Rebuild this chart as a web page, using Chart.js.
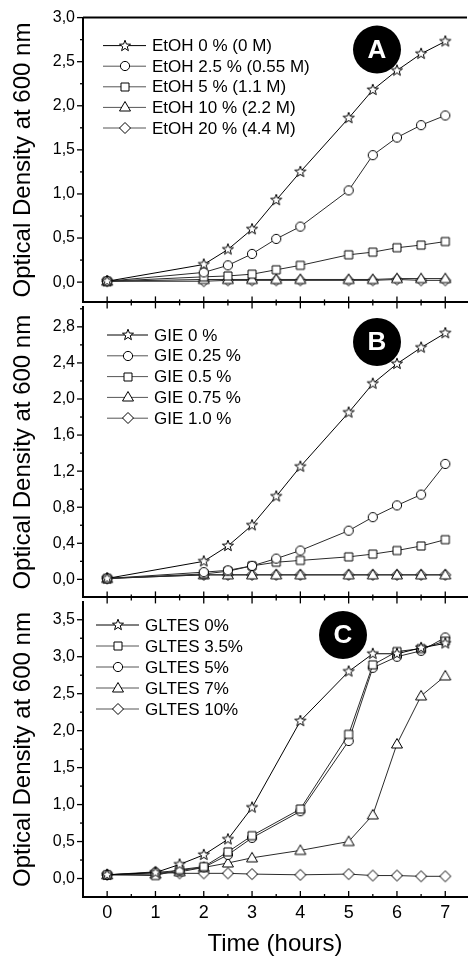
<!DOCTYPE html>
<html>
<head>
<meta charset="utf-8">
<script src="https://cdn.jsdelivr.net/npm/chart.js@4.4.1/dist/chart.umd.min.js"></script>
<style>
  html, body { margin: 0; padding: 0; background: #fff; overflow: hidden; }
  .panel { position: absolute; left: 0; width: 473px; }
</style>
</head>
<body>
<div class="panel" style="top:0;height:320px"><canvas id="chartA"></canvas></div>
<div class="panel" style="top:287px;height:328px"><canvas id="chartB"></canvas></div>
<div class="panel" style="top:582px;height:379px"><canvas id="chartC"></canvas></div>
<script>
// sampling times (hours)
const hoursAB = [0, 2, 2.5, 3, 3.5, 4, 5, 5.5, 6, 6.5, 7];
const hoursC = [0, 1, 1.5, 2, 2.5, 3, 4, 5, 5.5, 6, 6.5, 7];

// panel A - ethanol
const etohLabels = ['EtOH 0 % (0 M)', 'EtOH 2.5 % (0.55 M)', 'EtOH 5 % (1.1 M)', 'EtOH 10 % (2.2 M)', 'EtOH 20 % (4.4 M)'];
const etoh0 = [0.01, 0.20, 0.37, 0.60, 0.93, 1.25, 1.86, 2.18, 2.40, 2.59, 2.73];
const etoh25 = [0.01, 0.11, 0.19, 0.32, 0.49, 0.63, 1.04, 1.44, 1.64, 1.78, 1.89];
const etoh5 = [0.01, 0.06, 0.07, 0.09, 0.14, 0.19, 0.31, 0.34, 0.39, 0.42, 0.46];
const etoh10 = [0.01, 0.03, 0.03, 0.03, 0.03, 0.03, 0.03, 0.03, 0.04, 0.04, 0.04];
const etoh20 = [0.01, 0.01, 0.02, 0.02, 0.02, 0.02, 0.02, 0.02, 0.03, 0.02, 0.02];

// panel B - GIE
const gieLabels = ['GIE 0 %', 'GIE 0.25 %', 'GIE 0.5 %', 'GIE 0.75 %', 'GIE 1.0 %'];
const gie0 = [0.01, 0.20, 0.37, 0.60, 0.92, 1.25, 1.85, 2.17, 2.39, 2.57, 2.73];
const gie025 = [0.01, 0.08, 0.10, 0.15, 0.23, 0.32, 0.54, 0.69, 0.82, 0.94, 1.28];
const gie05 = [0.01, 0.06, 0.09, 0.15, 0.19, 0.21, 0.25, 0.28, 0.32, 0.37, 0.44];
const gie075 = [0.01, 0.05, 0.05, 0.05, 0.05, 0.05, 0.05, 0.05, 0.05, 0.05, 0.05];
const gie1 = [0.01, 0.05, 0.05, 0.05, 0.05, 0.05, 0.05, 0.05, 0.05, 0.05, 0.05];

// panel C - GLTES
const gltesLabels = ['GLTES 0%', 'GLTES 3.5%', 'GLTES 5%', 'GLTES 7%', 'GLTES 10%'];
const gltes0 = [0.05, 0.08, 0.19, 0.32, 0.53, 0.96, 2.13, 2.80, 3.04, 3.04, 3.12, 3.18];
const gltes35 = [0.05, 0.04, 0.12, 0.16, 0.36, 0.58, 0.94, 1.95, 2.89, 3.07, 3.11, 3.21];
const gltes5 = [0.05, 0.08, 0.11, 0.15, 0.32, 0.55, 0.91, 1.86, 2.85, 3.00, 3.08, 3.26];
const gltes7 = [0.05, 0.06, 0.09, 0.15, 0.21, 0.28, 0.38, 0.50, 0.86, 1.82, 2.47, 2.74];
const gltes10 = [0.05, 0.09, 0.07, 0.07, 0.07, 0.06, 0.05, 0.06, 0.04, 0.04, 0.03, 0.03];

const FONT = '"Liberation Sans", Arial, Helvetica, sans-serif';
Chart.defaults.font.family = FONT;
Chart.defaults.color = '#000';

// open (white filled) markers drawn once on small canvases
function marker(shape) {
  const c = document.createElement('canvas');
  c.width = 14; c.height = 14;
  const g = c.getContext('2d');
  g.translate(7, 7);
  g.beginPath();
  if (shape === 'star') {
    for (let i = 0; i < 10; i++) {
      const r = i % 2 ? 2.4 : 5.8;
      const a = -Math.PI / 2 + i * Math.PI / 5;
      g.lineTo(r * Math.cos(a), r * Math.sin(a));
    }
    g.closePath();
  } else if (shape === 'circle') {
    g.arc(0, 0, 4.6, 0, Math.PI * 2);
  } else if (shape === 'square') {
    g.rect(-4, -4, 8, 8);
  } else if (shape === 'triangle') {
    g.moveTo(0, -5.5); g.lineTo(5.5, 4); g.lineTo(-5.5, 4); g.closePath();
  } else {
    g.moveTo(0, -5.5); g.lineTo(5.5, 0); g.lineTo(0, 5.5); g.lineTo(-5.5, 0); g.closePath();
  }
  g.fillStyle = '#fff';
  g.fill();
  g.strokeStyle = '#000';
  g.lineWidth = 1;
  g.stroke();
  return c;
}
const shapes = ['star', 'circle', 'square', 'triangle', 'diamond'].map(marker);
const shapesC = [shapes[0], shapes[2], shapes[1], shapes[3], shapes[4]];

function isStep(v, step) {
  return Math.abs(v / step - Math.round(v / step)) < 1e-6;
}

// ticks from 0 up to the axis max, every `step`
function stepTicks(step, upTo) {
  return s => {
    const out = [];
    for (let k = 0; k * step <= (upTo ?? s.max) + 1e-9; k++) out.push({ value: +(k * step).toFixed(4) });
    s.ticks = out;
  };
}

// frame line, crossing ticks, inner legend and the letter badge
const panelDecor = {
  id: 'panelDecor',
  afterDatasetsDraw(chart, args, o) {
    const { ctx, chartArea: a, scales: { x, y } } = chart;
    const line = (x1, y1, x2, y2) => { ctx.beginPath(); ctx.moveTo(x1, y1); ctx.lineTo(x2, y2); ctx.stroke(); };
    ctx.save();
    ctx.strokeStyle = '#000';
    if (o.topBorder) {
      ctx.lineWidth = 2;
      line(a.left, a.top, a.right, a.top);
    }
    ctx.lineWidth = 1.3;
    x.ticks.forEach(t => {
      const px = x.getPixelForValue(t.value);
      const len = isStep(t.value, 1) ? 6 : 3;
      line(px, a.bottom - len, px, a.bottom + (o.crossTicks ? len : 0));
    });
    y.ticks.forEach(t => {
      const py = y.getPixelForValue(t.value);
      const len = isStep(t.value, o.yMajor) ? 6 : 3;
      line(a.left - len, py, a.left, py);
    });

    const lg = o.legend;
    ctx.font = '17px ' + FONT;
    ctx.textBaseline = 'middle';
    ctx.textAlign = 'left';
    chart.data.datasets.forEach((ds, i) => {
      const yy = a.top + lg.top + i * lg.gap;
      ctx.strokeStyle = i === 0 ? '#000' : '#555';
      ctx.lineWidth = 1;
      line(lg.left, yy, lg.left + lg.len, yy);
      ctx.drawImage(ds.pointStyle, Math.round(lg.left + lg.len / 2) - 7, Math.round(yy) - 7);
      ctx.fillStyle = '#000';
      ctx.fillText(ds.label, lg.left + lg.len + 6, yy + 1);
    });

    const b = o.badge;
    ctx.fillStyle = '#000';
    ctx.beginPath();
    ctx.arc(b.x, a.top + b.dy, 24, 0, Math.PI * 2);
    ctx.fill();
    ctx.fillStyle = '#fff';
    ctx.textAlign = 'center';
    ctx.font = 'bold 26px ' + FONT;
    ctx.fillText(b.text, b.x, a.top + b.dy + 1);
    ctx.restore();
  }
};

function makeChart(id, p) {
  return new Chart(document.getElementById(id), {
    type: 'line',
    data: {
      datasets: p.series.map((vals, i) => ({
        label: p.labels[i],
        data: vals.map((v, k) => ({ x: p.hours[k], y: v })),
        borderColor: i === 0 ? '#000' : '#2a2a2a',
        borderWidth: 1,
        pointStyle: p.markers[i],
        pointRadius: 5,
        fill: false,
        tension: 0
      }))
    },
    options: {
      animation: false,
      responsive: true,
      maintainAspectRatio: false,
      devicePixelRatio: 1,
      layout: { padding: { top: p.padTop, left: 0, right: 0, bottom: 0 } },
      plugins: {
        legend: { display: false },
        tooltip: { enabled: false },
        panelDecor: {
          topBorder: p.topBorder,
          crossTicks: p.crossTicks,
          yMajor: p.yMajor,
          legend: p.legend,
          badge: p.badge
        }
      },
      scales: {
        x: {
          type: 'linear',
          min: -0.5,
          max: 7.45,
          afterBuildTicks: stepTicks(0.5, 7),
          afterFit: s => { s.height = p.xHeight; },
          grid: { display: true, drawOnChartArea: false, drawTicks: false },
          border: { display: true, color: '#000', width: 2 },
          ticks: {
            display: p.showX,
            autoSkip: false,
            maxRotation: 0,
            padding: 5,
            font: { size: 18 },
            callback: v => isStep(v, 1) ? String(Math.round(v)) : ''
          },
          title: {
            display: p.showX,
            text: 'Time (hours)',
            font: { size: 24 },
            padding: { top: 0, bottom: 2 }
          }
        },
        y: {
          min: p.yMin,
          max: p.yMax,
          afterBuildTicks: stepTicks(p.yMinor),
          afterFit: s => { s.width = 83; },
          grid: { display: true, drawOnChartArea: false, drawTicks: false },
          border: { display: true, color: '#000', width: 2 },
          ticks: {
            autoSkip: false,
            padding: 8,
            font: { size: 16 },
            callback: v => isStep(v, p.yMajor) ? v.toFixed(1).replace('.', ',') : ''
          },
          title: {
            display: true,
            text: 'Optical Density at 600 nm',
            font: { size: 24 },
            padding: { top: 9, bottom: 0 }
          }
        }
      }
    },
    plugins: [panelDecor]
  });
}

makeChart('chartA', {
  hours: hoursAB, labels: etohLabels, markers: shapes,
  series: [etoh0, etoh25, etoh5, etoh10, etoh20],
  yMin: -0.23, yMax: 3.0, yMinor: 0.25, yMajor: 0.5,
  padTop: 14, xHeight: 13, showX: false, topBorder: true, crossTicks: true,
  legend: { left: 103, len: 43, top: 28, gap: 20.6 },
  badge: { x: 377, dy: 32, text: 'A' }
});

makeChart('chartB', {
  hours: hoursAB, labels: gieLabels, markers: shapes,
  series: [gie0, gie025, gie05, gie075, gie1],
  yMin: -0.2, yMax: 3.02, yMinor: 0.2, yMajor: 0.4,
  padTop: 20, xHeight: 13, showX: false, topBorder: false, crossTicks: true,
  legend: { left: 107, len: 41, top: 28, gap: 20.8 },
  badge: { x: 377, dy: 35, text: 'B' }
});

makeChart('chartC', {
  hours: hoursC, labels: gltesLabels, markers: shapesC,
  series: [gltes0, gltes35, gltes5, gltes7, gltes10],
  yMin: -0.25, yMax: 3.74, yMinor: 0.25, yMajor: 0.5,
  padTop: 20, xHeight: 64, showX: true, topBorder: false, crossTicks: false,
  legend: { left: 96, len: 43, top: 23, gap: 21 },
  badge: { x: 343, dy: 33, text: 'C' }
});
</script>
</body>
</html>
